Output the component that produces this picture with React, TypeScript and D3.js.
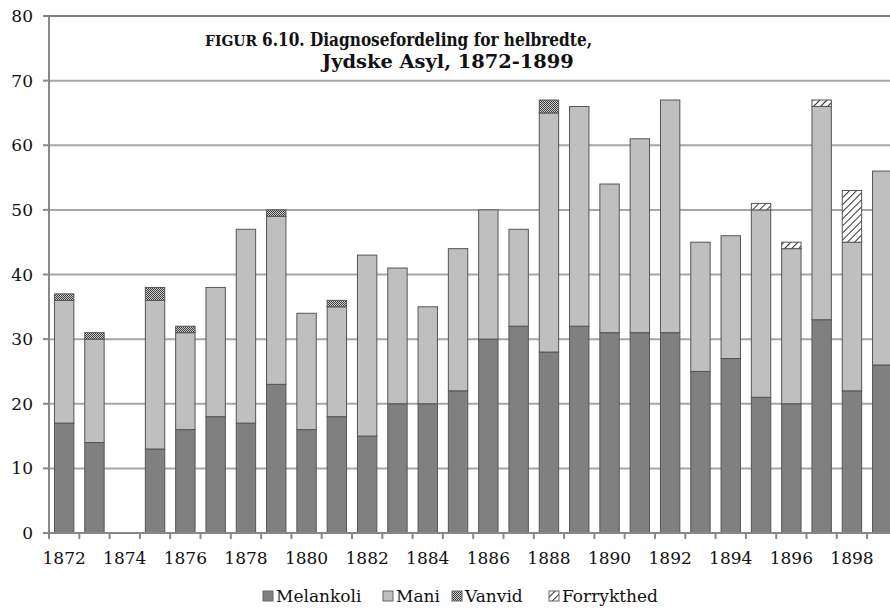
import React, { useLayoutEffect, useRef, useState } from "react";
import * as d3 from "d3";

const years = [1872,1873,1874,1875,1876,1877,1878,1879,1880,1881,1882,1883,1884,1885,1886,1887,1888,1889,1890,1891,1892,1893,1894,1895,1896,1897,1898,1899];
const melankoli = [17,14,0,13,16,18,17,23,16,18,15,20,20,22,30,32,28,32,31,31,31,25,27,21,20,33,22,26];
const mani = [19,16,0,23,15,20,30,26,18,17,28,21,15,22,20,15,37,34,23,30,36,20,19,29,24,33,23,30];
const vanvid = [1,1,0,2,1,0,0,1,0,1,0,0,0,0,0,0,2,0,0,0,0,0,0,0,0,0,0,0];
const forrykthed = [0,0,0,0,0,0,0,0,0,0,0,0,0,0,0,0,0,0,0,0,0,0,0,1,1,1,8,0];
const seriesNames = ["Melankoli", "Mani", "Vanvid", "Forrykthed"];
const yTicks = [0,10,20,30,40,50,60,70,80];
const xLabelYears = [1872,1874,1876,1878,1880,1882,1884,1886,1888,1890,1892,1894,1896,1898];
const titleLine1Prefix = "FIGUR";
const titleLine1Rest = "6.10. Diagnosefordeling for helbredte,";
const titleLine2 = "Jydske Asyl, 1872-1899";

const W = 890, H = 610;
const left = 49, top = 16, bottom = 533;
const step = 30.3;

export default function App() {
  const t2 = useRef<SVGTextElement>(null);
  const [fs2, setFs2] = useState(17);

  useLayoutEffect(() => {
    if (t2.current) {
      const w2 = t2.current.getComputedTextLength();
      if (w2 > 0 && Math.abs(w2 - 252) > 2) setFs2(f => f * 252 / w2);
    }
  }, [fs2]);

  const x = d3.scaleBand<number>()
    .domain(years)
    .range([left, left + step * years.length])
    .paddingInner(0.36)
    .paddingOuter(0.18);
  const y = d3.scaleLinear().domain([0, 80]).range([bottom, top]);

  const table = years.map((yr, i) => ({
    year: yr,
    Melankoli: melankoli[i],
    Mani: mani[i],
    Vanvid: vanvid[i],
    Forrykthed: forrykthed[i],
  }));
  const stack = d3.stack<any>().keys(seriesNames)(table);
  const fills: Record<string, string> = {
    Melankoli: "#808080",
    Mani: "#bfbfbf",
    Vanvid: "url(#pVanvid)",
    Forrykthed: "url(#pForr)",
  };
  const font = "'DejaVu Serif', Georgia, serif";
  const condFont = "'DejaVu Serif Condensed', 'DejaVu Serif', Georgia, serif";
  const bandStep = x.step();
  const tickPositions = d3.range(years.length + 1).map(i => x.range()[0] + i * bandStep);

  const legendX = [263, 383, 452, 549];

  return (
    <svg width={W} height={H} style={{ position: "absolute", left: 0, top: 0, background: "#fff" }}>
      <defs>
        <pattern id="pVanvid" width="2" height="2" patternUnits="userSpaceOnUse">
          <rect width="2" height="2" fill="#cfcfcf" />
          <rect width="1" height="1" fill="#3a3a3a" />
          <rect x="1" y="1" width="1" height="1" fill="#3a3a3a" />
        </pattern>
        <pattern id="pForr" width="5" height="5" patternUnits="userSpaceOnUse" patternTransform="rotate(45)">
          <rect width="5" height="5" fill="#fff" />
          <line x1="0" y1="0" x2="0" y2="5" stroke="#333" strokeWidth="2" />
        </pattern>
      </defs>
      {/* gridlines */}
      {yTicks.filter(t => t > 0).map(t => (
        <line key={t} x1={left} x2={W} y1={y(t)} y2={y(t)}
          stroke={t === 80 ? "#555" : "#a6a6a6"} strokeWidth={t === 80 ? 1.5 : 2} />
      ))}
      {/* bars */}
      {stack.map(s => (
        <g key={s.key}>
          {s.map((d, i) => {
            const h = y(d[0]) - y(d[1]);
            if (h <= 0) return null;
            return (
              <rect key={i} x={x(years[i])} y={y(d[1])} width={x.bandwidth()} height={h}
                fill={fills[s.key]} stroke="#555" strokeWidth={1} />
            );
          })}
        </g>
      ))}
      {/* axes */}
      <line x1={left} x2={left} y1={top} y2={bottom} stroke="#888" strokeWidth={2} />
      <line x1={left} x2={W} y1={bottom} y2={bottom} stroke="#888" strokeWidth={2} />
      {yTicks.map(t => (
        <g key={t}>
          <line x1={left - 6} x2={left} y1={y(t)} y2={y(t)} stroke="#888" strokeWidth={2} />
          <text x={33} y={y(t)} dy="0.36em" textAnchor="end" fontFamily={font} fontSize={17} fill="#111">{t}</text>
        </g>
      ))}
      {tickPositions.map((p, i) => (
        <line key={i} x1={p} x2={p} y1={bottom} y2={bottom + 6} stroke="#888" strokeWidth={2} />
      ))}
      {xLabelYears.map(yr => (
        <text key={yr} x={(x(yr) as number) + x.bandwidth() / 2} y={564} textAnchor="middle"
          fontFamily={font} fontSize={17} fill="#111">{yr}</text>
      ))}
      {/* title */}
      <text x={205} y={46} fontFamily={font} fontWeight="bold" fontSize={fs2 * 0.8} fill="#111"
        textLength={52} lengthAdjust="spacingAndGlyphs">{titleLine1Prefix}</text>
      <text x={262} y={46} fontFamily={condFont} fontWeight="bold" fontSize={fs2} fill="#111"
        textLength={330} lengthAdjust="spacingAndGlyphs">{titleLine1Rest}</text>
      <text ref={t2} x={322} y={68} fontFamily={font} fontWeight="bold" fontSize={fs2} fill="#111">{titleLine2}</text>
      {/* legend */}
      {seriesNames.map((n, i) => (
        <g key={n}>
          <rect x={legendX[i]} y={591} width={10} height={10} fill={fills[n]} stroke="#666" strokeWidth={1} />
          <text x={legendX[i] + 13} y={602} fontFamily={font} fontSize={17} fill="#111">{n}</text>
        </g>
      ))}
    </svg>
  );
}
